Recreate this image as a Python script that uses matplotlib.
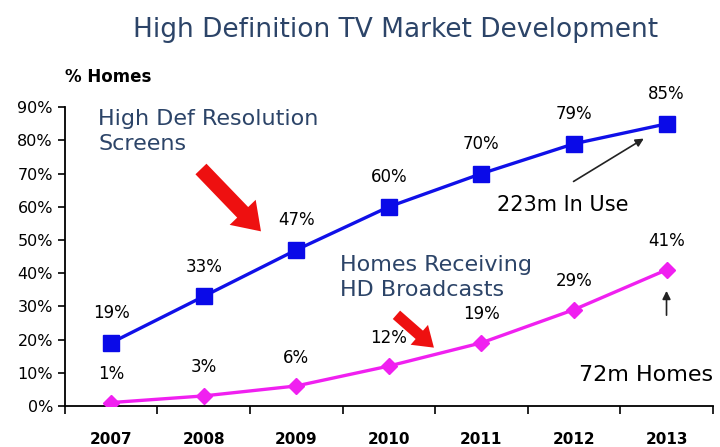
import matplotlib
matplotlib.use("Agg")
import matplotlib.pyplot as plt
import numpy as np

years = ["2007", "2008", "2009", "2010", "2011", "2012", "2013"]
hd_screens = [19, 33, 47, 60, 70, 79, 85]
hd_broadcasts = [1, 3, 6, 12, 19, 29, 41]
y_ticks = [0, 10, 20, 30, 40, 50, 60, 70, 80, 90]

TEXT_BLUE = "#2c4468"
LINE_BLUE = "#1010e8"
LINE_PINK = "#f020f0"

plt.rcParams["font.family"] = ["DejaVu Sans"]

fig = plt.figure(figsize=(7.2, 4.47), dpi=100)
ax = fig.add_axes([0.09, 0.092, 0.90, 0.668])

x = np.arange(len(years))
ax.plot(x, hd_screens, color=LINE_BLUE, lw=2.4, marker="s", ms=11,
        mfc="#0a0ae8", mec="#0a0ae8", zorder=3)
ax.plot(x, hd_broadcasts, color=LINE_PINK, lw=2.4, marker="D", ms=8,
        mfc=LINE_PINK, mec=LINE_PINK, zorder=3)

for xi, v in zip(x, hd_screens):
    ax.annotate(f"{v}%", (xi, v), xytext=(0, 15), textcoords="offset points",
                ha="center", va="bottom", fontsize=12)
for xi, v in zip(x, hd_broadcasts):
    ax.annotate(f"{v}%", (xi, v), xytext=(0, 14), textcoords="offset points",
                ha="center", va="bottom", fontsize=12)

ax.set_xlim(-0.5, len(years) - 0.5)
ax.set_ylim(0, 90)
ax.set_yticks(y_ticks)
ax.set_yticklabels([f"{t}%" for t in y_ticks], fontsize=11.5)
ax.set_xticks(x)
ax.set_xticklabels(years, fontsize=11, fontweight="bold")
ax.set_xticks(np.arange(-0.5, len(years)), minor=True)
ax.tick_params(axis="x", which="major", length=0, pad=19)
ax.tick_params(axis="x", which="minor", length=6, width=1.2, direction="out")
ax.tick_params(axis="y", length=5, width=1.2, direction="out")
for side in ("top", "right"):
    ax.spines[side].set_visible(False)
for side in ("left", "bottom"):
    ax.spines[side].set_linewidth(1.3)

fig.text(0.549, 0.933, "High Definition TV Market Development", ha="center",
         va="center", fontsize=19, color=TEXT_BLUE)
fig.text(0.09, 0.828, "% Homes", ha="left", va="center", fontsize=12,
         fontweight="bold")

ax.text(-0.14, 89.5, "High Def Resolution\nScreens", ha="left", va="top",
        fontsize=16, color=TEXT_BLUE, linespacing=1.3)
ax.text(2.47, 45.5, "Homes Receiving\nHD Broadcasts", ha="left", va="top",
        fontsize=16, color=TEXT_BLUE, linespacing=1.3)

big_arrow = dict(arrowstyle="simple,head_length=1.9,head_width=2.6,tail_width=1.1",
                 color="#ee1010", lw=0, mutation_scale=10)
ax.annotate("", xy=(1.64, 52), xytext=(0.95, 72), arrowprops=big_arrow)
small_arrow = dict(arrowstyle="simple,head_length=1.4,head_width=1.9,tail_width=0.8",
                   color="#ee1010", lw=0, mutation_scale=10)
ax.annotate("", xy=(3.51, 17), xytext=(3.06, 28), arrowprops=small_arrow)

ax.annotate("", xy=(5.78, 81), xytext=(4.97, 67.2),
            arrowprops=dict(arrowstyle="-|>", color="#222222", lw=1.2,
                            mutation_scale=12))
ax.text(4.17, 60.5, "223m In Use", ha="left", va="center", fontsize=15)
ax.annotate("", xy=(6.0, 35.5), xytext=(6.0, 26.5),
            arrowprops=dict(arrowstyle="-|>", color="#222222", lw=1.2,
                            mutation_scale=12))
ax.text(5.05, 9.3, "72m Homes", ha="left", va="center", fontsize=16)

fig.savefig("out.png", dpi=100)
